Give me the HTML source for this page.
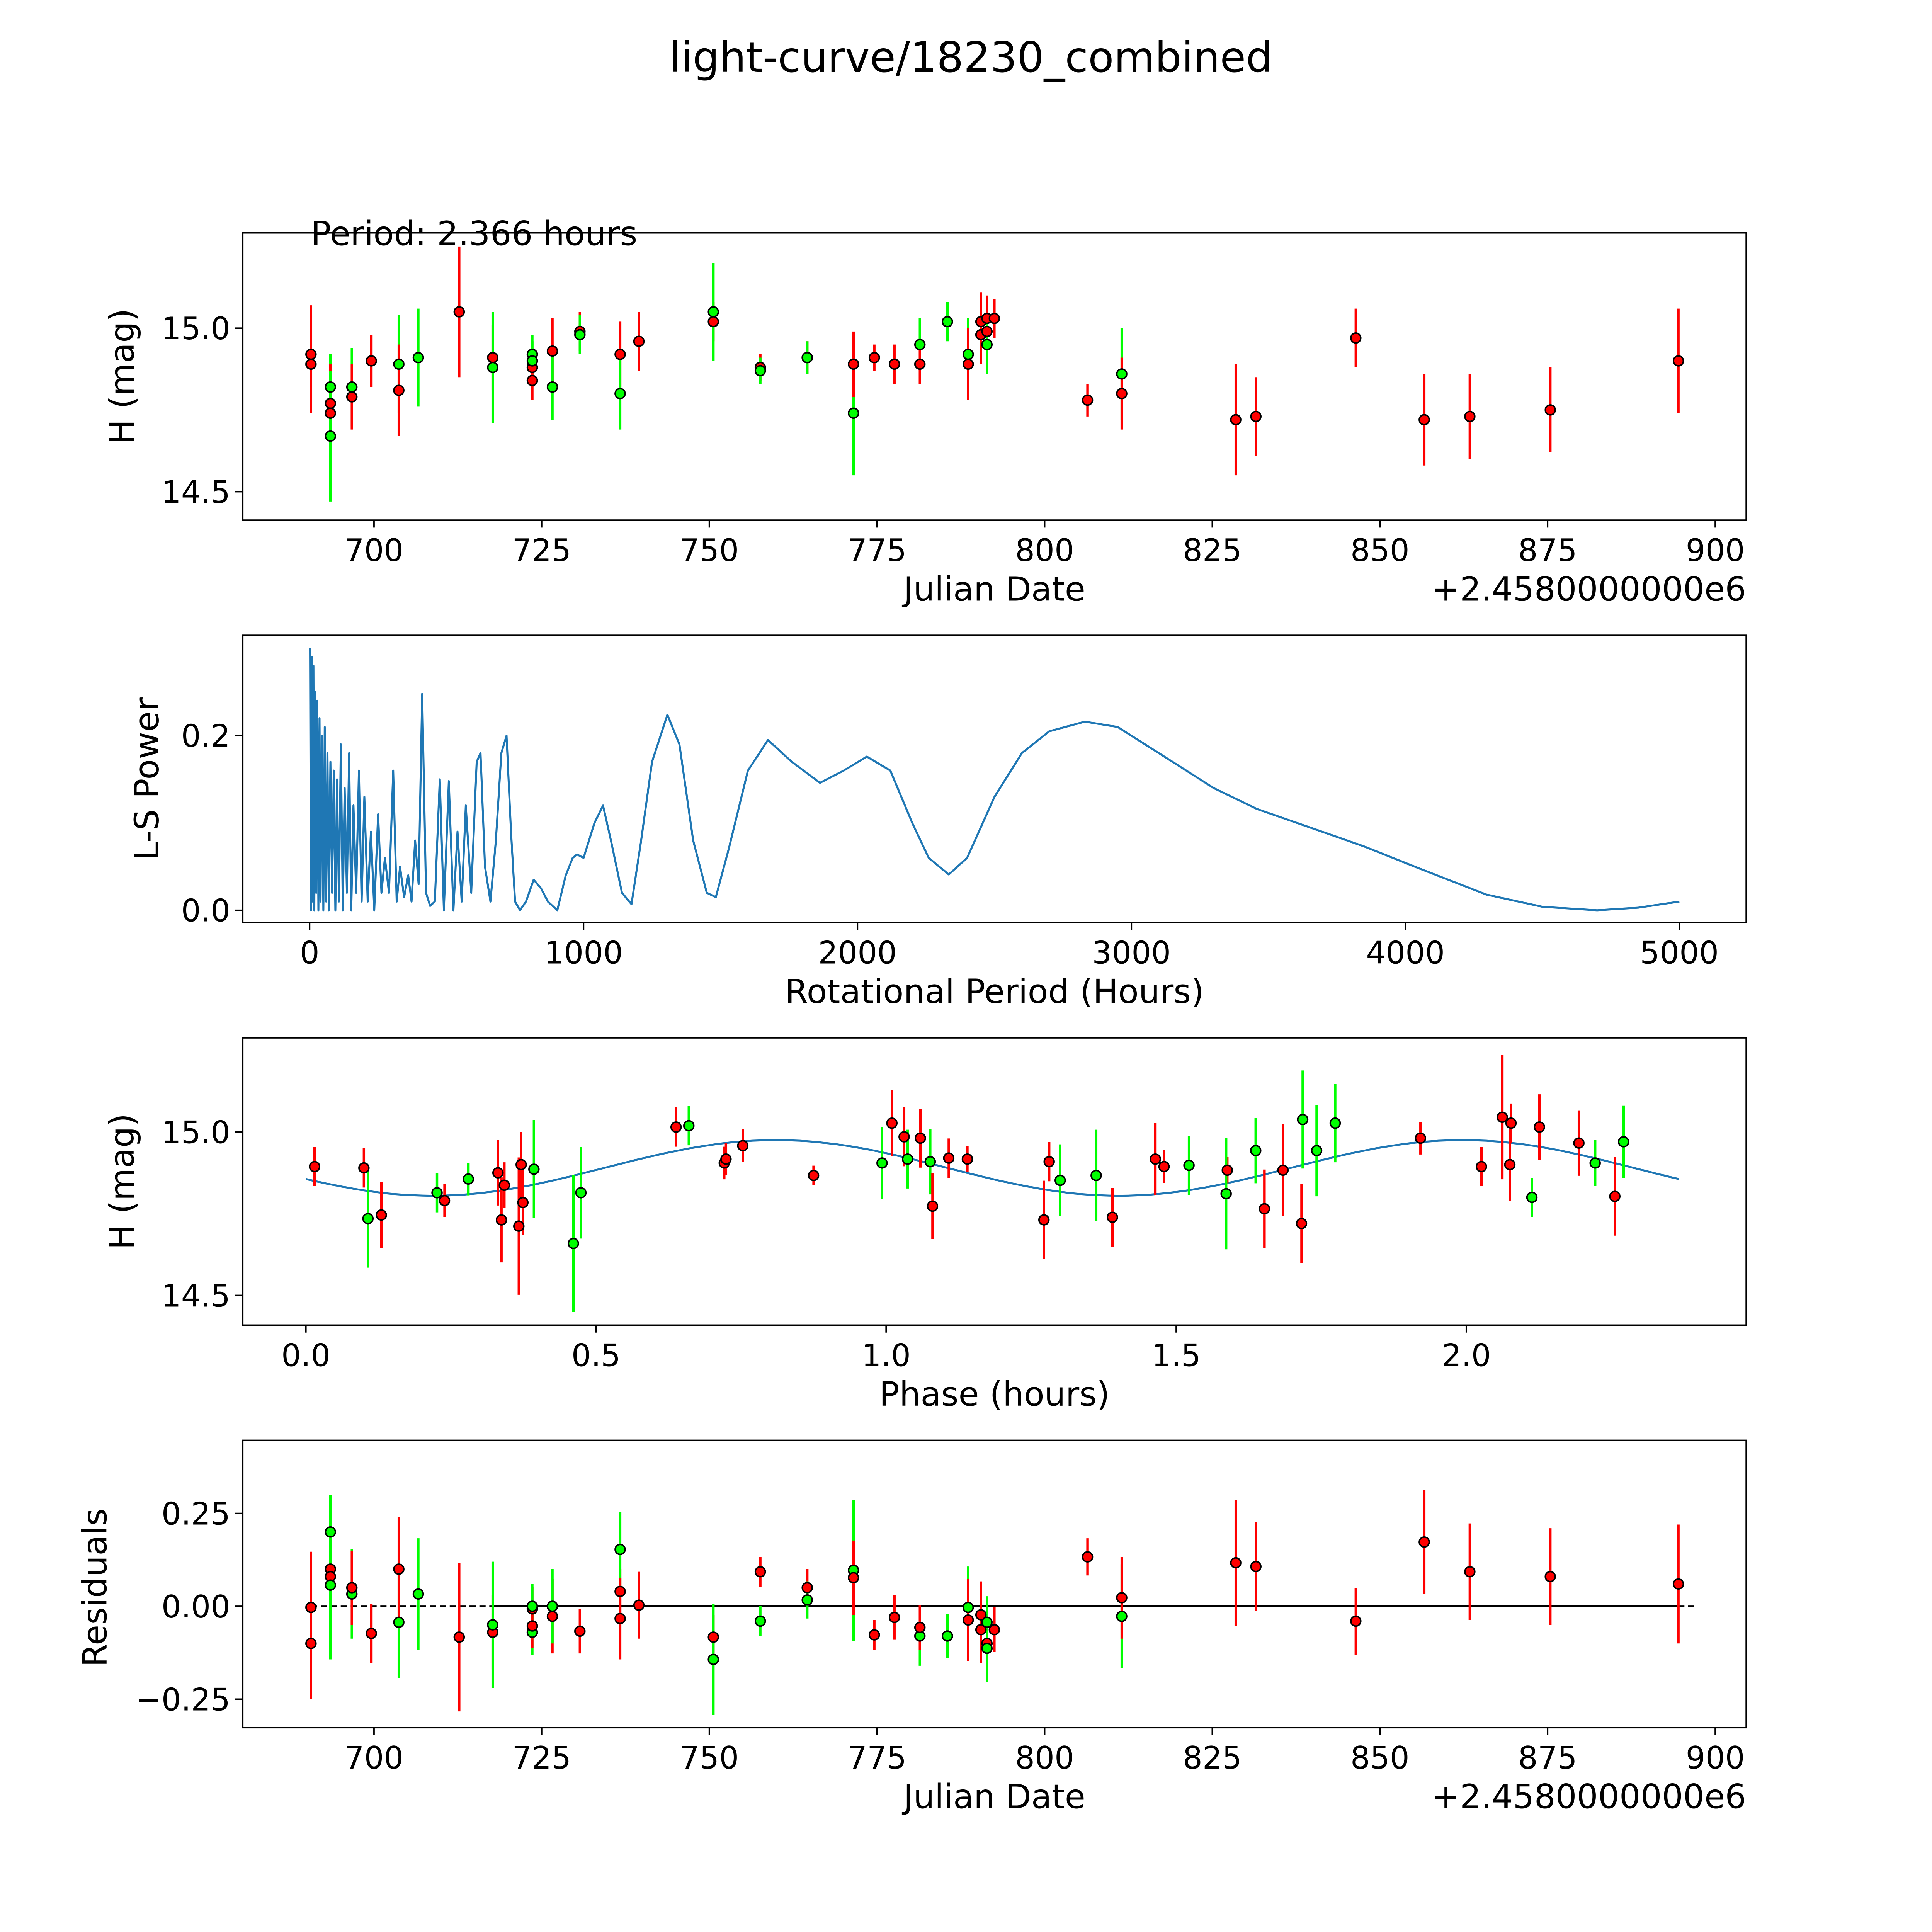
<!DOCTYPE html>
<html><head><meta charset="utf-8"><style>html,body{margin:0;padding:0;background:#fff;overflow:hidden;width:100%;height:100%}svg{display:block;width:100vw;height:100vh}</style></head>
<body>
<svg id="fig" viewBox="0 0 1560 1560" preserveAspectRatio="xMidYMid meet" xmlns="http://www.w3.org/2000/svg" font-family="'DejaVu Sans', 'Liberation Sans', sans-serif">
<rect width="1560" height="1560" fill="#fff"/>
<text x="784" y="58" font-size="34" text-anchor="middle">light-curve/18230_combined</text>
</svg>
<script>
// ---- Panel 1 / residual data (Julian date offset, mag, error, color) ----
const lcDates = [690.6,690.6,693.5,693.5,693.5,693.5,696.7,696.7,699.6,703.7,703.7,706.6,712.7,717.7,717.7,723.6,723.6,723.6,723.6,726.6,726.6,730.7,730.7,736.7,736.7,739.5,750.6,750.6,757.6,757.6,764.6,764.6,771.5,771.5,774.6,777.6,781.4,781.4,785.5,788.6,788.6,790.5,790.5,791.4,791.4,791.4,792.5,806.4,811.5,811.5,828.5,831.5,846.4,856.6,863.4,875.4,894.5];
const lcMags = [14.92,14.89,14.82,14.77,14.74,14.67,14.82,14.79,14.90,14.89,14.81,14.91,15.05,14.91,14.88,14.88,14.92,14.90,14.84,14.93,14.82,14.99,14.98,14.92,14.80,14.96,15.02,15.05,14.88,14.87,14.91,14.91,14.74,14.89,14.91,14.89,14.95,14.89,15.02,14.92,14.89,14.98,15.02,15.03,14.99,14.95,15.03,14.78,14.86,14.80,14.72,14.73,14.97,14.72,14.73,14.75,14.90];
const lcErrs = [0.15,0.15,0.1,0.12,0.1,0.2,0.12,0.1,0.08,0.15,0.14,0.15,0.2,0.1,0.17,0.06,0.06,0.06,0.06,0.1,0.1,0.06,0.06,0.1,0.11,0.09,0.06,0.15,0.04,0.04,0.05,0.05,0.19,0.1,0.04,0.06,0.08,0.06,0.06,0.11,0.11,0.09,0.09,0.07,0.07,0.09,0.06,0.05,0.14,0.11,0.17,0.12,0.09,0.14,0.13,0.13,0.16];
const lcColors = ['r','r','g','r','r','g','g','r','r','g','r','g','r','r','g','r','g','g','r','r','g','r','g','r','g','r','r','g','r','g','r','g','g','r','r','r','g','r','g','g','r','r','r','r','r','g','r','r','g','r','r','r','r','r','r','r','r'];
// residuals (same order as above)
const resDates = [690.6,690.6,693.5,693.5,693.5,693.5,696.7,696.7,699.6,703.7,703.7,706.6,712.7,717.7,717.7,723.6,723.6,723.6,723.6,726.6,726.6,730.7,736.7,736.7,736.7,739.5,750.6,750.6,757.6,757.6,764.6,764.6,771.5,771.5,774.6,777.6,781.4,781.4,785.5,788.6,788.6,790.5,790.5,791.4,791.4,791.4,792.5,806.4,811.5,811.5,828.5,831.5,846.4,856.6,863.4,875.4,894.5];
const resVals = [-0.003,-0.1,0.2,0.1,0.08,0.057,0.033,0.05,-0.073,-0.043,0.1,0.033,-0.083,-0.07,-0.05,-0.007,0.0,-0.07,-0.053,-0.027,0.0,-0.067,0.04,0.153,-0.033,0.003,-0.083,-0.143,0.093,-0.04,0.05,0.017,0.097,0.077,-0.077,-0.03,-0.08,-0.057,-0.08,-0.003,-0.037,-0.023,-0.063,-0.1,-0.043,-0.113,-0.063,0.133,-0.027,0.023,0.117,0.107,-0.04,0.173,0.093,0.08,0.06];
const resColors = ['r','r','g','r','r','g','g','r','r','g','r','g','r','r','g','r','g','g','r','r','g','r','r','g','r','r','r','g','r','g','r','g','g','r','r','r','g','r','g','g','r','r','r','r','g','g','r','r','g','r','r','r','r','r','r','r','r'];
// ---- Phase-folded data ----
const phX = [0.015,0.100,0.107,0.130,0.226,0.239,0.280,0.331,0.337,0.342,0.367,0.371,0.374,0.393,0.461,0.474,0.638,0.660,0.721,0.724,0.753,0.875,0.993,1.010,1.031,1.037,1.059,1.076,1.080,1.108,1.140,1.272,1.281,1.300,1.362,1.390,1.464,1.479,1.522,1.588,1.586,1.652,1.637,1.684,1.716,1.718,1.742,1.774,1.921,2.026,2.062,2.077,2.075,2.113,2.126,2.194,2.222,2.256,2.271];
const phMag = [14.894,14.89,14.735,14.746,14.814,14.79,14.856,14.875,14.731,14.837,14.712,14.90,14.784,14.886,14.659,14.814,15.015,15.019,14.905,14.917,14.958,14.867,14.905,15.027,14.985,14.917,14.981,14.909,14.773,14.92,14.917,14.731,14.909,14.852,14.867,14.739,14.917,14.894,14.898,14.883,14.811,14.765,14.943,14.883,14.72,15.038,14.943,15.027,14.981,14.894,15.045,15.027,14.90,14.80,15.015,14.966,14.905,14.803,14.97];
const phErr = [0.06,0.06,0.15,0.1,0.06,0.05,0.05,0.1,0.13,0.07,0.21,0.1,0.1,0.15,0.21,0.14,0.06,0.06,0.05,0.05,0.05,0.03,0.11,0.1,0.09,0.09,0.09,0.1,0.1,0.06,0.04,0.12,0.06,0.11,0.14,0.09,0.11,0.05,0.09,0.04,0.17,0.12,0.1,0.14,0.12,0.15,0.14,0.12,0.05,0.06,0.19,0.06,0.11,0.06,0.1,0.1,0.07,0.12,0.11];
const phColors = ['r','r','g','r','g','r','g','r','r','r','r','r','r','g','g','g','r','g','r','r','r','r','g','r','r','g','r','g','r','r','r','r','r','g','g','r','r','r','g','r','g','r','g','r','r','g','g','g','r','r','r','r','r','g','r','r','g','r','g'];
// fit curve parameters
const fitMean = [14.89];
const fitAmp = [0.085];
const fitPeak = [0.81];
const fitPeriod = [1.183];
// ---- Periodogram ----
const lsPeriod = [2,5,8,11,14,17,20,24,28,32,36,40,45,50,55,60,65,70,76,82,88,94,100,107,114,121,128,136,144,152,160,170,180,190,200,212,224,236,250,262,275,290,305,318,330,345,360,372,385,398,411,425,440,457,475,490,508,525,540,555,570,590,610,624,640,660,680,700,719,735,750,768,790,818,845,870,904,935,960,976,1000,1040,1071,1100,1140,1175,1210,1250,1306,1350,1400,1450,1483,1530,1600,1673,1760,1863,1950,2034,2120,2200,2260,2333,2400,2500,2600,2700,2830,2950,3100,3300,3458,3650,3850,4050,4295,4500,4700,4850,5000];
const lsPower = [0.30,0.0,0.29,0.01,0.28,0.0,0.25,0.02,0.24,0.0,0.22,0.01,0.20,0.0,0.21,0.01,0.18,0.0,0.17,0.02,0.16,0.0,0.15,0.01,0.19,0.0,0.14,0.02,0.18,0.0,0.12,0.02,0.16,0.01,0.13,0.01,0.09,0.0,0.11,0.02,0.06,0.02,0.16,0.01,0.05,0.015,0.04,0.01,0.08,0.03,0.248,0.02,0.005,0.01,0.15,0.0,0.148,0.0,0.09,0.01,0.12,0.02,0.17,0.18,0.05,0.01,0.08,0.18,0.2,0.09,0.01,0.0,0.01,0.035,0.025,0.01,0.0,0.04,0.06,0.064,0.06,0.1,0.12,0.08,0.02,0.007,0.08,0.17,0.224,0.19,0.08,0.02,0.015,0.07,0.16,0.195,0.17,0.146,0.16,0.176,0.16,0.1,0.06,0.041,0.06,0.13,0.18,0.205,0.216,0.21,0.18,0.14,0.116,0.095,0.073,0.048,0.018,0.004,0.0,0.003,0.01];

const svg = document.getElementById('fig');
const NS = 'http://www.w3.org/2000/svg';
function mk(tag, attrs, parent) {
  const e = document.createElementNS(NS, tag);
  for (const k in attrs) e.setAttribute(k, attrs[k]);
  (parent || svg).appendChild(e);
  return e;
}
const COL = {r: '#ff0000', g: '#00ff00'};
const X0 = 196, X1 = 1410;
function linear(d0, d1, p0, p1) { return v => p0 + (v - d0) * (p1 - p0) / (d1 - d0); }

function frame(name, y0, y1) {
  const r = mk('rect', {x: X0, y: y0, width: X1 - X0, height: y1 - y0, fill: 'none', stroke: '#000', 'stroke-width': 1.2});
  
  
}
function xticks(name, ticks, labels, sx, y1) {
  const g = mk('g', {});
  
  
  ticks.forEach((t, i) => {
    const x = sx(t);
    mk('line', {x1: x, x2: x, y1: y1, y2: y1 + 6, stroke: '#000', 'stroke-width': 1.2}, g);
    const tx = mk('text', {x: x, y: y1 + 33, 'font-size': 25, 'text-anchor': 'middle'}, g);
    tx.textContent = labels[i];
  });
}
function yticks(name, ticks, labels, sy) {
  const g = mk('g', {});
  
  
  ticks.forEach((t, i) => {
    const y = sy(t);
    mk('line', {x1: X0 - 6, x2: X0, y1: y, y2: y, stroke: '#000', 'stroke-width': 1.2}, g);
    const tx = mk('text', {x: X0 - 10, y: y + 9, 'font-size': 25, 'text-anchor': 'end'}, g);
    tx.textContent = labels[i];
  });
}
function label(name, txt, x, y, rot, anchor) {
  const t = mk('text', {x: x, y: y, 'font-size': 27, 'text-anchor': anchor || 'middle'});
  if (rot) t.setAttribute('transform', 'rotate(-90 ' + x + ' ' + y + ')');
  t.textContent = txt;
  
  
}
function errpoints(name, xs, ys, es, cs, sx, sy) {
  const g = mk('g', {});
  
  
  xs.forEach((v, i) => {
    const x = sx(v), y = sy(ys[i]);
    const ya = sy(ys[i] + es[i]), yb = sy(ys[i] - es[i]);
    const l = mk('line', {x1: x, x2: x, y1: ya, y2: yb, stroke: COL[cs[i]], 'stroke-width': 2}, g);
    
    
  });
  xs.forEach((v, i) => {
    const c = mk('circle', {cx: sx(v), cy: sy(ys[i]), r: 4, fill: COL[cs[i]], stroke: '#000', 'stroke-width': 1.2}, g);
    
    
  });
}

// Panel 1
const sxD = linear(700, 900, 302, 1385);
const sy1 = linear(15, 14.5, 265, 397);
frame('light-curve-panel', 188, 420);
errpoints('light-curve-points', lcDates, lcMags, lcErrs, lcColors, sxD, sy1);
xticks('light-curve', [700,725,750,775,800,825,850,875,900], ['700','725','750','775','800','825','850','875','900'], sxD, 420);
yticks('light-curve', [15, 14.5], ['15.0','14.5'], sy1);
label('light-curve-x-title', 'Julian Date', 803, 485);
label('light-curve-offset', '+2.4580000000e6', 1410, 485, false, 'end');
label('light-curve-y-title', 'H (mag)', 108, 304, true);
label('period-annotation', 'Period: 2.366 hours', 251, 198, false, 'start');

// Panel 2
const sxP = linear(0, 5000, 250, 1356);
const syP = linear(0, 0.2, 735, 594);
frame('periodogram-panel', 513, 745);
const pts = lsPeriod.map((p, i) => sxP(p).toFixed(1) + ',' + syP(lsPower[i]).toFixed(1)).join(' ');
const pl = mk('polyline', {points: pts, fill: 'none', stroke: '#1f77b4', 'stroke-width': 1.6, 'stroke-linejoin': 'round'});


xticks('periodogram', [0,1000,2000,3000,4000,5000], ['0','1000','2000','3000','4000','5000'], sxP, 745);
yticks('periodogram', [0, 0.2], ['0.0','0.2'], syP);
label('periodogram-x-title', 'Rotational Period (Hours)', 803, 810);
label('periodogram-y-title', 'L-S Power', 128, 629, true);

// Panel 3
const sxPh = linear(0, 2, 247, 1184);
const sy3 = linear(15, 14.5, 914, 1046);
frame('phase-panel', 838, 1070);
let fp = [];
for (let i = 0; i <= 200; i++) {
  const p = 2.366 * i / 200;
  const m = fitMean[0] + fitAmp[0] * Math.cos(2 * Math.PI * (p - fitPeak[0]) / fitPeriod[0]);
  fp.push(sxPh(p).toFixed(1) + ',' + sy3(m).toFixed(1));
}
const fl = mk('polyline', {points: fp.join(' '), fill: 'none', stroke: '#1f77b4', 'stroke-width': 1.6});


errpoints('phase-points', phX, phMag, phErr, phColors, sxPh, sy3);
xticks('phase', [0,0.5,1,1.5,2], ['0.0','0.5','1.0','1.5','2.0'], sxPh, 1070);
yticks('phase', [15, 14.5], ['15.0','14.5'], sy3);
label('phase-x-title', 'Phase (hours)', 803, 1135);
label('phase-y-title', 'H (mag)', 108, 954, true);

// Panel 4
const sy4 = linear(0, 0.25, 1297, 1222);
frame('residuals-panel', 1163, 1395);
const dl = mk('line', {x1: sxD(690.6), x2: 1370, y1: sy4(0), y2: sy4(0), stroke: '#000', 'stroke-width': 1.2, 'stroke-dasharray': '5,3'});


const sl = mk('line', {x1: sxD(717.7), x2: sxD(894.5), y1: sy4(0), y2: sy4(0), stroke: '#000', 'stroke-width': 1.4});


errpoints('residual-points', resDates, resVals, lcErrs, resColors, sxD, sy4);
xticks('residuals', [700,725,750,775,800,825,850,875,900], ['700','725','750','775','800','825','850','875','900'], sxD, 1395);
yticks('residuals', [0.25, 0, -0.25], ['0.25','0.00','\u22120.25'], sy4);
label('residuals-x-title', 'Julian Date', 803, 1460);
label('residuals-offset', '+2.4580000000e6', 1410, 1460, false, 'end');
label('residuals-y-title', 'Residuals', 86, 1282, true);
</script>
</body></html>
